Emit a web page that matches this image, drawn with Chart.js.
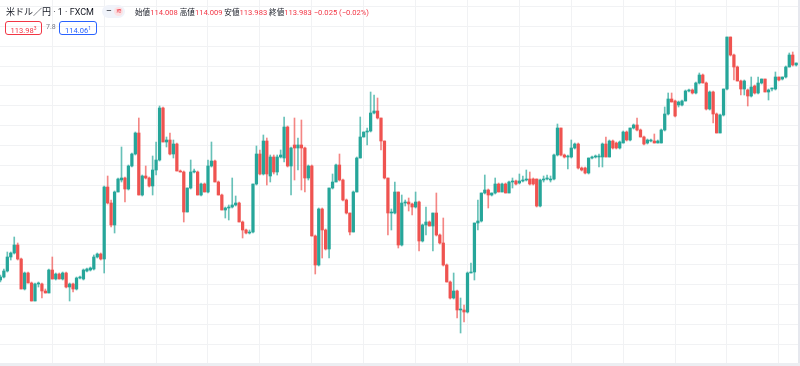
<!DOCTYPE html>
<html>
<head>
<meta charset="utf-8">
<script src="https://cdn.jsdelivr.net/npm/chart.js@4/dist/chart.umd.min.js"></script>
<style>
  body { margin: 0; background: #fff; font-family: Roboto, "Noto Sans CJK JP", sans-serif; }
  #wrap { position: relative; width: 800px; height: 366px; overflow: hidden; }
  #chart { position: absolute; left: 0; top: 0; }
  .abs { position: absolute; white-space: nowrap; }
  #title { left: 6px; top: 5px; font-size: 9px; color: #131722; }
  #pill { left: 102px; top: 5px; width: 23px; height: 13px; border-radius: 7px; background: #f0f3fa; }
  #pill .dash { position: absolute; left: 4px; top: 0; font-size: 9px; line-height: 13px; color: #131722; }
  #pill .wave { position: absolute; left: 12px; top: 2px; width: 9px; height: 9px; border-radius: 5px; background: #fbe2e4; color: #f23645; font-size: 7px; line-height: 9px; text-align: center; }
  #ohlc { left: 135px; top: 6px; font-size: 7.6px; color: #131722; }
  #ohlc b { font-weight: normal; color: #f23645; }
  .box { top: 21px; height: 12px; border-radius: 3px; font-size: 7.5px; line-height: 12px; text-align: center; }
  .box sup { font-size: 5px; vertical-align: 3px; }
  #sell { left: 5px; width: 35px; border: 1px solid #f23645; color: #f23645; }
  #buy { left: 59px; width: 36px; border: 1px solid #2962ff; color: #2962ff; }
  #spread { left: 46px; top: 23px; font-size: 7px; color: #787b86; }
  #edgeR { left: 798px; top: 0; width: 2px; height: 366px; background: #e6e8ee; }
  #edgeB { left: 0; top: 363px; width: 800px; height: 3px; background: #eceef2; }
</style>
</head>
<body>
<div id="wrap">
  <canvas id="chart" width="800" height="366"></canvas>
  <div id="edgeR" class="abs"></div>
  <div id="edgeB" class="abs"></div>
  <div id="title" class="abs">米ドル／円 · 1 · FXCM</div>
  <div id="pill" class="abs"><span class="dash">–</span><span class="wave">≋</span></div>
  <div id="ohlc" class="abs">始値<b>114.008</b> 高値<b>114.009</b> 安値<b>113.983</b> 終値<b>113.983</b> <b>−0.025 (−0.02%)</b></div>
  <div id="sell" class="abs box">113.98<sup>3</sup></div>
  <div id="spread" class="abs">7.8</div>
  <div id="buy" class="abs box">114.06<sup>1</sup></div>
</div>
<script>
// 1-minute candles (oldest first)
const opens = [
  113.786,113.789,113.795,113.809,113.813,113.821,113.807,113.777,113.793,113.783,
  113.765,113.782,113.782,113.775,113.773,113.796,113.787,113.792,113.787,113.793,
  113.779,113.782,113.777,113.788,113.787,113.795,113.796,113.797,113.809,113.812,
  113.807,113.879,113.863,113.841,113.874,113.886,113.888,113.877,113.900,113.912,
  113.933,113.871,113.890,113.888,113.880,113.896,113.906,113.958,113.924,113.926,
  113.912,113.922,113.895,113.894,113.854,113.878,113.894,113.894,113.871,113.882,
  113.874,113.900,113.905,113.884,113.871,113.856,113.858,113.859,113.861,113.863,
  113.844,113.836,113.833,113.834,113.882,113.912,113.892,113.925,113.890,113.909,
  113.894,113.909,113.908,113.939,113.900,113.921,113.918,113.921,113.918,113.888,
  113.900,113.830,113.801,113.857,113.836,113.817,113.878,113.884,113.901,113.886,
  113.866,113.853,113.834,113.874,113.908,113.929,113.934,113.935,113.953,113.955,
  113.948,113.925,113.888,113.853,113.853,113.874,113.821,113.863,113.864,113.862,
  113.859,113.864,113.825,113.841,113.844,113.840,113.853,113.831,113.823,113.801,
  113.784,113.768,113.775,113.756,113.756,113.754,113.793,113.794,113.843,113.845,
  113.873,113.876,113.871,113.873,113.882,113.874,113.882,113.873,113.884,113.885,
  113.883,113.885,113.886,113.887,113.887,113.887,113.860,113.886,113.887,113.886,
  113.887,113.911,113.938,113.911,113.909,113.909,113.918,113.922,113.898,113.898,
  113.893,113.908,113.909,113.909,113.909,113.922,113.909,113.925,113.923,113.918,
  113.923,113.934,113.926,113.938,113.941,113.936,113.929,113.923,113.925,113.925,
  113.923,113.923,113.936,113.952,113.967,113.965,113.961,113.961,113.965,113.975,
  113.976,113.973,113.983,113.991,113.983,113.957,113.974,113.952,113.933,113.951,
  113.977,114.029,114.011,113.999,113.985,113.977,113.976,113.970,113.980,113.973,
  113.983,113.987,113.974,113.977,113.977,113.989,113.987,113.989,113.999,114.011,114.001
];
const highs = [
  113.791,113.797,113.814,113.814,113.829,113.823,113.808,113.794,113.794,113.784,
  113.783,113.784,113.783,113.777,113.797,113.809,113.793,113.793,113.794,113.794,
  113.783,113.783,113.789,113.790,113.797,113.798,113.799,113.811,113.813,113.813,
  113.880,113.890,113.866,113.875,113.888,113.919,113.889,113.901,113.913,113.934,
  113.948,113.891,113.900,113.889,113.910,113.924,113.960,113.959,113.929,113.933,
  113.926,113.923,113.896,113.895,113.878,113.906,113.897,113.895,113.883,113.883,
  113.906,113.924,113.906,113.885,113.872,113.859,113.861,113.888,113.870,113.864,
  113.845,113.837,113.836,113.882,113.920,113.916,113.931,113.928,113.911,113.911,
  113.911,113.916,113.949,113.940,113.919,113.948,113.928,113.946,113.919,113.901,
  113.901,113.831,113.858,113.858,113.837,113.878,113.892,113.902,113.912,113.887,
  113.867,113.853,113.875,113.909,113.949,113.934,113.938,113.974,113.971,113.968,
  113.948,113.925,113.888,113.857,113.884,113.874,113.871,113.866,113.868,113.863,
  113.874,113.865,113.842,113.859,113.845,113.853,113.873,113.832,113.848,113.802,
  113.785,113.793,113.776,113.768,113.761,113.794,113.803,113.843,113.866,113.873,
  113.891,113.877,113.873,113.888,113.883,113.883,113.883,113.885,113.888,113.886,
  113.892,113.890,113.896,113.894,113.888,113.887,113.887,113.890,113.891,113.890,
  113.912,113.942,113.938,113.912,113.911,113.926,113.923,113.923,113.899,113.899,
  113.908,113.910,113.911,113.912,113.923,113.929,113.926,113.926,113.924,113.925,
  113.935,113.935,113.938,113.942,113.948,113.937,113.930,113.927,113.927,113.932,
  113.926,113.937,113.959,113.973,113.973,113.966,113.965,113.966,113.976,113.977,
  113.977,113.984,113.993,113.992,113.984,113.975,113.975,113.953,113.952,113.977,
  114.029,114.029,114.012,114.000,113.986,113.986,113.977,113.989,113.981,113.989,
  113.987,113.987,113.977,113.978,113.994,113.989,113.989,114.000,114.013,114.014,114.003
];
const lows = [
  113.784,113.788,113.794,113.806,113.812,113.806,113.777,113.776,113.783,113.765,
  113.765,113.779,113.768,113.773,113.773,113.787,113.786,113.787,113.786,113.778,
  113.765,113.774,113.776,113.787,113.786,113.794,113.795,113.796,113.808,113.806,
  113.793,113.862,113.839,113.833,113.874,113.884,113.864,113.876,113.899,113.911,
  113.871,113.870,113.887,113.879,113.871,113.891,113.905,113.924,113.919,113.911,
  113.908,113.895,113.894,113.844,113.854,113.877,113.893,113.871,113.870,113.874,
  113.873,113.899,113.884,113.871,113.856,113.848,113.846,113.858,113.860,113.844,
  113.828,113.832,113.832,113.833,113.881,113.891,113.891,113.881,113.884,113.892,
  113.891,113.908,113.904,113.899,113.871,113.886,113.896,113.876,113.874,113.886,
  113.830,113.792,113.800,113.808,113.816,113.808,113.877,113.884,113.885,113.865,
  113.852,113.831,113.834,113.874,113.908,113.929,113.921,113.934,113.952,113.947,
  113.916,113.887,113.831,113.836,113.852,113.818,113.820,113.860,113.855,113.851,
  113.858,113.815,113.824,113.831,113.840,113.815,113.830,113.822,113.800,113.784,
  113.767,113.767,113.748,113.733,113.744,113.753,113.793,113.786,113.836,113.844,
  113.872,113.858,113.870,113.872,113.874,113.874,113.873,113.873,113.878,113.881,
  113.882,113.884,113.885,113.881,113.881,113.859,113.859,113.884,113.886,113.884,
  113.886,113.910,113.910,113.908,113.897,113.908,113.917,113.897,113.895,113.892,
  113.892,113.907,113.908,113.899,113.899,113.909,113.909,113.917,113.917,113.917,
  113.923,113.925,113.925,113.937,113.935,113.929,113.921,113.922,113.924,113.923,
  113.923,113.923,113.935,113.951,113.964,113.949,113.959,113.960,113.965,113.974,
  113.972,113.972,113.982,113.983,113.956,113.956,113.943,113.933,113.933,113.950,
  113.976,114.010,113.986,113.985,113.971,113.971,113.960,113.969,113.972,113.972,
  113.982,113.974,113.966,113.975,113.976,113.985,113.986,113.988,113.999,114.000,114.000
];
const closes = [
  113.789,113.795,113.809,113.813,113.821,113.807,113.777,113.793,113.783,113.765,
  113.782,113.783,113.775,113.773,113.796,113.787,113.792,113.787,113.793,113.779,
  113.782,113.777,113.788,113.789,113.796,113.797,113.798,113.809,113.812,113.807,
  113.879,113.863,113.841,113.874,113.887,113.888,113.877,113.900,113.912,113.933,
  113.871,113.890,113.888,113.880,113.896,113.906,113.958,113.924,113.926,113.912,
  113.922,113.895,113.894,113.854,113.878,113.894,113.895,113.871,113.882,113.874,
  113.900,113.905,113.884,113.871,113.856,113.858,113.859,113.861,113.863,113.844,
  113.836,113.833,113.834,113.882,113.912,113.892,113.925,113.892,113.909,113.894,
  113.909,113.911,113.939,113.900,113.918,113.918,113.921,113.918,113.888,113.900,
  113.830,113.801,113.857,113.836,113.817,113.878,113.884,113.901,113.886,113.866,
  113.853,113.834,113.874,113.908,113.929,113.934,113.935,113.953,113.955,113.948,
  113.925,113.888,113.853,113.854,113.874,113.821,113.863,113.864,113.862,113.859,
  113.864,113.825,113.841,113.844,113.840,113.853,113.831,113.823,113.801,113.784,
  113.768,113.775,113.756,113.757,113.754,113.793,113.794,113.843,113.845,113.873,
  113.876,113.871,113.873,113.882,113.874,113.882,113.873,113.884,113.885,113.882,
  113.885,113.886,113.887,113.882,113.882,113.860,113.886,113.887,113.888,113.887,
  113.911,113.938,113.911,113.909,113.910,113.918,113.922,113.898,113.896,113.893,
  113.908,113.909,113.910,113.910,113.922,113.909,113.925,113.918,113.918,113.924,
  113.934,113.926,113.938,113.941,113.936,113.929,113.922,113.926,113.926,113.923,
  113.925,113.936,113.952,113.967,113.964,113.950,113.964,113.965,113.975,113.976,
  113.973,113.983,113.991,113.983,113.957,113.974,113.952,113.933,113.951,113.977,
  114.029,114.011,113.999,113.985,113.977,113.985,113.970,113.979,113.973,113.983,
  113.987,113.974,113.976,113.977,113.989,113.986,113.989,113.999,114.011,114.001,114.003
];

// grid: a vertical line every 15 candles, horizontal every 0.02
const timeGrid = [15, 30, 45, 60, 75, 90, 105, 120, 135, 150, 165, 180, 195, 210, 225];
const priceGrid = [];
for (let k = 0; k < 18; k++) priceGrid.push(114.0595 - k * 0.01987);

const UP = '#26a69a';
const DOWN = '#ef5350';
const UP_WICK = 'rgba(38, 166, 154, 0.7)';
const DOWN_WICK = 'rgba(239, 83, 80, 0.7)';
const idx = opens.map((_, i) => i);
const isUp = i => closes[i] >= opens[i];

const ctx = document.getElementById('chart').getContext('2d');
new Chart(ctx, {
    type: 'bar',
    data: {
        datasets: [
            {
                label: 'body',
                data: idx.map(i => ({ x: i, y: [opens[i], closes[i]] })),
                backgroundColor: idx.map(i => isUp(i) ? UP : DOWN),
                barThickness: 2.6,
                minBarLength: 1,
                grouped: false
            },
            {
                label: 'wick',
                data: idx.map(i => ({ x: i, y: [lows[i], highs[i]] })),
                backgroundColor: idx.map(i => isUp(i) ? UP_WICK : DOWN_WICK),
                barThickness: 1,
                grouped: false
            }
        ]
    },
    options: {
        responsive: false,
        animation: false,
        devicePixelRatio: 1,
        layout: { padding: 0 },
        plugins: { legend: { display: false }, tooltip: { enabled: false } },
        scales: {
            x: {
                type: 'linear',
                offset: false,
                min: -0.116,
                max: 231.1,
                ticks: { display: false },
                grid: { color: '#f1f2f4', drawTicks: false, offset: false },
                border: { display: false },
                afterBuildTicks: s => { s.ticks = timeGrid.map(v => ({ value: v })); }
            },
            y: {
                type: 'linear',
                min: 113.700,
                max: 114.066,
                ticks: { display: false },
                grid: { color: '#f1f2f4', drawTicks: false },
                border: { display: false },
                afterBuildTicks: s => { s.ticks = priceGrid.map(v => ({ value: v })); }
            }
        }
    }
});
</script>
</body>
</html>
